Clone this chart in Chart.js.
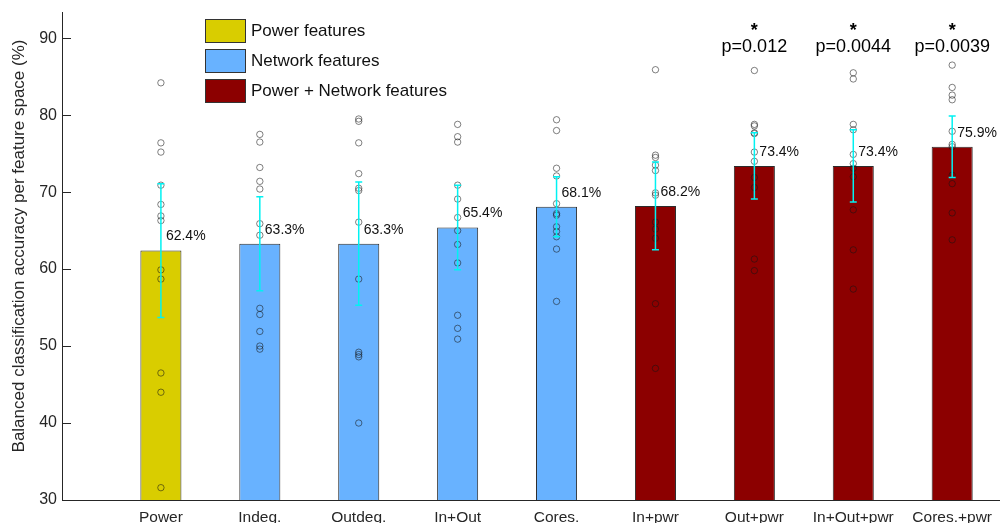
<!DOCTYPE html>
<html>
<head>
<meta charset="utf-8">
<script src="https://cdn.jsdelivr.net/npm/chart.js@4/dist/chart.umd.min.js"></script>
<style>
    html, body { margin: 0; padding: 0; background: #fff; overflow: hidden; }
    #wrap { width: 1056px; height: 523px; }
</style>
</head>
<body>
<div id="wrap"><canvas id="accuracyChart" width="1056" height="523"></canvas></div>
<script>
const categories = ['Power', 'Indeg.', 'Outdeg.', 'In+Out', 'Cores.', 'In+pwr', 'Out+pwr', 'In+Out+pwr', 'Cores.+pwr'];
const featureGroup = [0, 1, 1, 1, 1, 2, 2, 2, 2];
const groupNames = ['Power features', 'Network features', 'Power + Network features'];
const groupColors = ['#D9CD00', '#68B2FF', '#8C0000'];
const meanAccuracy = [62.4, 63.3, 63.3, 65.4, 68.1, 68.2, 73.4, 73.4, 75.9];
const stdAccuracy = [8.7, 6.1, 8.0, 5.5, 3.9, 5.7, 4.3, 4.7, 4.0];
const pValueLabels = [null, null, null, null, null, null, 'p=0.012', 'p=0.0044', 'p=0.0039'];
const yTicks = [30, 40, 50, 60, 70, 80, 90];

// per-fold accuracies (the small circles)
const powerFolds = [84.2, 76.4, 75.2, 70.9, 68.4, 66.9, 66.3, 59.9, 58.7, 46.5, 44.0, 31.6];
const indegFolds = [77.5, 76.5, 73.2, 71.4, 70.4, 65.9, 64.4, 54.9, 54.1, 51.9, 50.0, 49.6];
const outdegFolds = [79.5, 79.2, 76.4, 72.4, 70.5, 70.2, 66.1, 58.7, 49.2, 48.9, 48.6, 40.0];
const inOutFolds = [78.8, 77.2, 76.5, 70.9, 69.1, 66.7, 65.0, 63.2, 60.8, 54.0, 52.3, 50.9];
const coresFolds = [79.4, 78.0, 73.1, 72.1, 68.5, 67.2, 67.0, 65.5, 64.9, 64.2, 62.6, 55.8];
const inPwrFolds = [85.9, 74.8, 74.5, 73.5, 72.8, 69.9, 69.6, 66.1, 65.2, 64.0, 55.5, 47.1];
const outPwrFolds = [85.8, 78.8, 78.6, 77.7, 77.6, 75.2, 74.0, 71.9, 70.6, 61.3, 59.8];
const inOutPwrFolds = [85.5, 84.7, 78.8, 78.1, 74.9, 73.7, 73.1, 72.0, 67.7, 62.5, 57.4];
const coresPwrFolds = [86.5, 83.6, 82.6, 82.0, 77.9, 76.2, 75.9, 72.2, 71.1, 67.3, 63.8];
const foldAccuracies = [powerFolds, indegFolds, outdegFolds, inOutFolds, coresFolds,
    inPwrFolds, outPwrFolds, inOutPwrFolds, coresPwrFolds];

const FONT = "'Liberation Sans', Arial, Helvetica, sans-serif";
const TEXT_COLOR = '#262626';

const barData = meanAccuracy.map((v, i) => ({ x: i + 1, y: v }));
const foldPoints = [];
foldAccuracies.forEach((list, i) => {
    list.forEach(v => foldPoints.push({ x: i + 1, y: v }));
});

// error bars, value labels, p-values, legend, y title
const annotationsPlugin = {
    id: 'annotations',
    afterDatasetsDraw(chart) {
        const ctx = chart.ctx;
        const xs = chart.scales.x;
        const ys = chart.scales.y;

        // error bars
        ctx.save();
        ctx.strokeStyle = '#00F2F2';
        ctx.lineWidth = 1.5;
        meanAccuracy.forEach((m, i) => {
            const x = xs.getPixelForValue(i + 1);
            const top = ys.getPixelForValue(m + stdAccuracy[i]);
            const bot = ys.getPixelForValue(m - stdAccuracy[i]);
            ctx.beginPath();
            ctx.moveTo(x, top); ctx.lineTo(x, bot);
            ctx.moveTo(x - 3.5, top); ctx.lineTo(x + 3.5, top);
            ctx.moveTo(x - 3.5, bot); ctx.lineTo(x + 3.5, bot);
            ctx.stroke();
        });
        ctx.restore();

        // mean labels
        ctx.save();
        ctx.fillStyle = '#111';
        ctx.font = '14px ' + FONT;
        ctx.textAlign = 'left';
        ctx.textBaseline = 'middle';
        meanAccuracy.forEach((m, i) => {
            const x = xs.getPixelForValue(i + 1) + 5;
            const y = ys.getPixelForValue(m) - 14;
            ctx.fillText(m.toFixed(1) + '%', x, y);
        });
        ctx.restore();

        // p-values with stars
        ctx.save();
        ctx.fillStyle = '#000';
        ctx.textAlign = 'center';
        pValueLabels.forEach((p, i) => {
            if (!p) return;
            const x = xs.getPixelForValue(i + 1);
            ctx.font = '18px ' + FONT;
            ctx.textBaseline = 'middle';
            ctx.fillText(p, x, ys.getPixelForValue(88.9));
            ctx.font = 'bold 18px ' + FONT;
            ctx.textBaseline = 'alphabetic';
            ctx.fillText('*', x, ys.getPixelForValue(90.3));
        });
        ctx.restore();
    },
    afterDraw(chart) {
        const ctx = chart.ctx;
        const ys = chart.scales.y;
        const left = chart.chartArea.left;

        // inward y ticks
        ctx.save();
        ctx.strokeStyle = TEXT_COLOR;
        ctx.lineWidth = 1;
        yTicks.forEach(t => {
            const y = Math.round(ys.getPixelForValue(t)) + 0.5;
            ctx.beginPath();
            ctx.moveTo(left, y);
            ctx.lineTo(left + 9, y);
            ctx.stroke();
        });
        ctx.restore();

        // legend
        ctx.save();
        ctx.font = '17px ' + FONT;
        ctx.textBaseline = 'middle';
        ctx.textAlign = 'left';
        groupNames.forEach((name, g) => {
            const y = 19 + g * 30;
            ctx.fillStyle = groupColors[g];
            ctx.fillRect(205, y, 40, 23);
            ctx.strokeStyle = '#333';
            ctx.lineWidth = 1;
            ctx.strokeRect(205.5, y + 0.5, 40, 23);
            ctx.fillStyle = '#111';
            ctx.fillText(name, 251, y + 12);
        });
        ctx.restore();

        // y axis title
        ctx.save();
        ctx.translate(19, 246);
        ctx.rotate(-Math.PI / 2);
        ctx.font = '17px ' + FONT;
        ctx.fillStyle = TEXT_COLOR;
        ctx.textAlign = 'center';
        ctx.textBaseline = 'middle';
        ctx.fillText('Balanced classification accuracy per feature space (%)', 0, 0);
        ctx.restore();
    }
};

const ctx = document.getElementById('accuracyChart').getContext('2d');
new Chart(ctx, {
    type: 'bar',
    data: {
        datasets: [
            {
                type: 'scatter',
                data: foldPoints,
                pointStyle: 'circle',
                pointRadius: 3.2,
                pointBorderWidth: 0.9,
                pointBorderColor: 'rgba(20,20,20,0.6)',
                pointBackgroundColor: 'rgba(0,0,0,0)',
                order: 1
            },
            {
                type: 'bar',
                data: barData,
                backgroundColor: featureGroup.map(g => groupColors[g]),
                borderColor: '#2b2b2b',
                borderWidth: 1,
                borderSkipped: false,
                barPercentage: 0.415,
                categoryPercentage: 1,
                order: 2
            }
        ]
    },
    options: {
        responsive: false,
        animation: false,
        devicePixelRatio: 1,
        layout: { padding: { top: 12, left: 0, right: 0, bottom: 0 } },
        plugins: {
            legend: { display: false },
            tooltip: { enabled: false }
        },
        scales: {
            x: {
                type: 'linear',
                min: 0,
                max: 10,
                offset: false,
                grid: { display: false, drawTicks: false },
                border: { display: true, color: TEXT_COLOR, width: 1 },
                afterBuildTicks: scale => {
                    scale.ticks = categories.map((c, i) => ({ value: i + 1 }));
                },
                afterFit: scale => {
                    scale.height = 23;
                    scale.paddingLeft = 0;
                    scale.paddingRight = 0;
                },
                ticks: {
                    autoSkip: false,
                    maxRotation: 0,
                    padding: 8,
                    color: TEXT_COLOR,
                    font: { family: FONT, size: 15.5 },
                    callback: v => categories[v - 1]
                }
            },
            y: {
                type: 'linear',
                min: 30,
                max: 93.4,
                grid: { display: false, drawTicks: false },
                border: { display: true, color: TEXT_COLOR, width: 1 },
                afterBuildTicks: scale => {
                    scale.ticks = yTicks.map(v => ({ value: v }));
                },
                afterFit: scale => {
                    scale.width = 62;
                    scale.paddingTop = 0;
                    scale.paddingBottom = 0;
                },
                ticks: {
                    padding: 5,
                    color: TEXT_COLOR,
                    font: { family: FONT, size: 16 }
                }
            }
        }
    },
    plugins: [annotationsPlugin]
});
</script>
</body>
</html>
